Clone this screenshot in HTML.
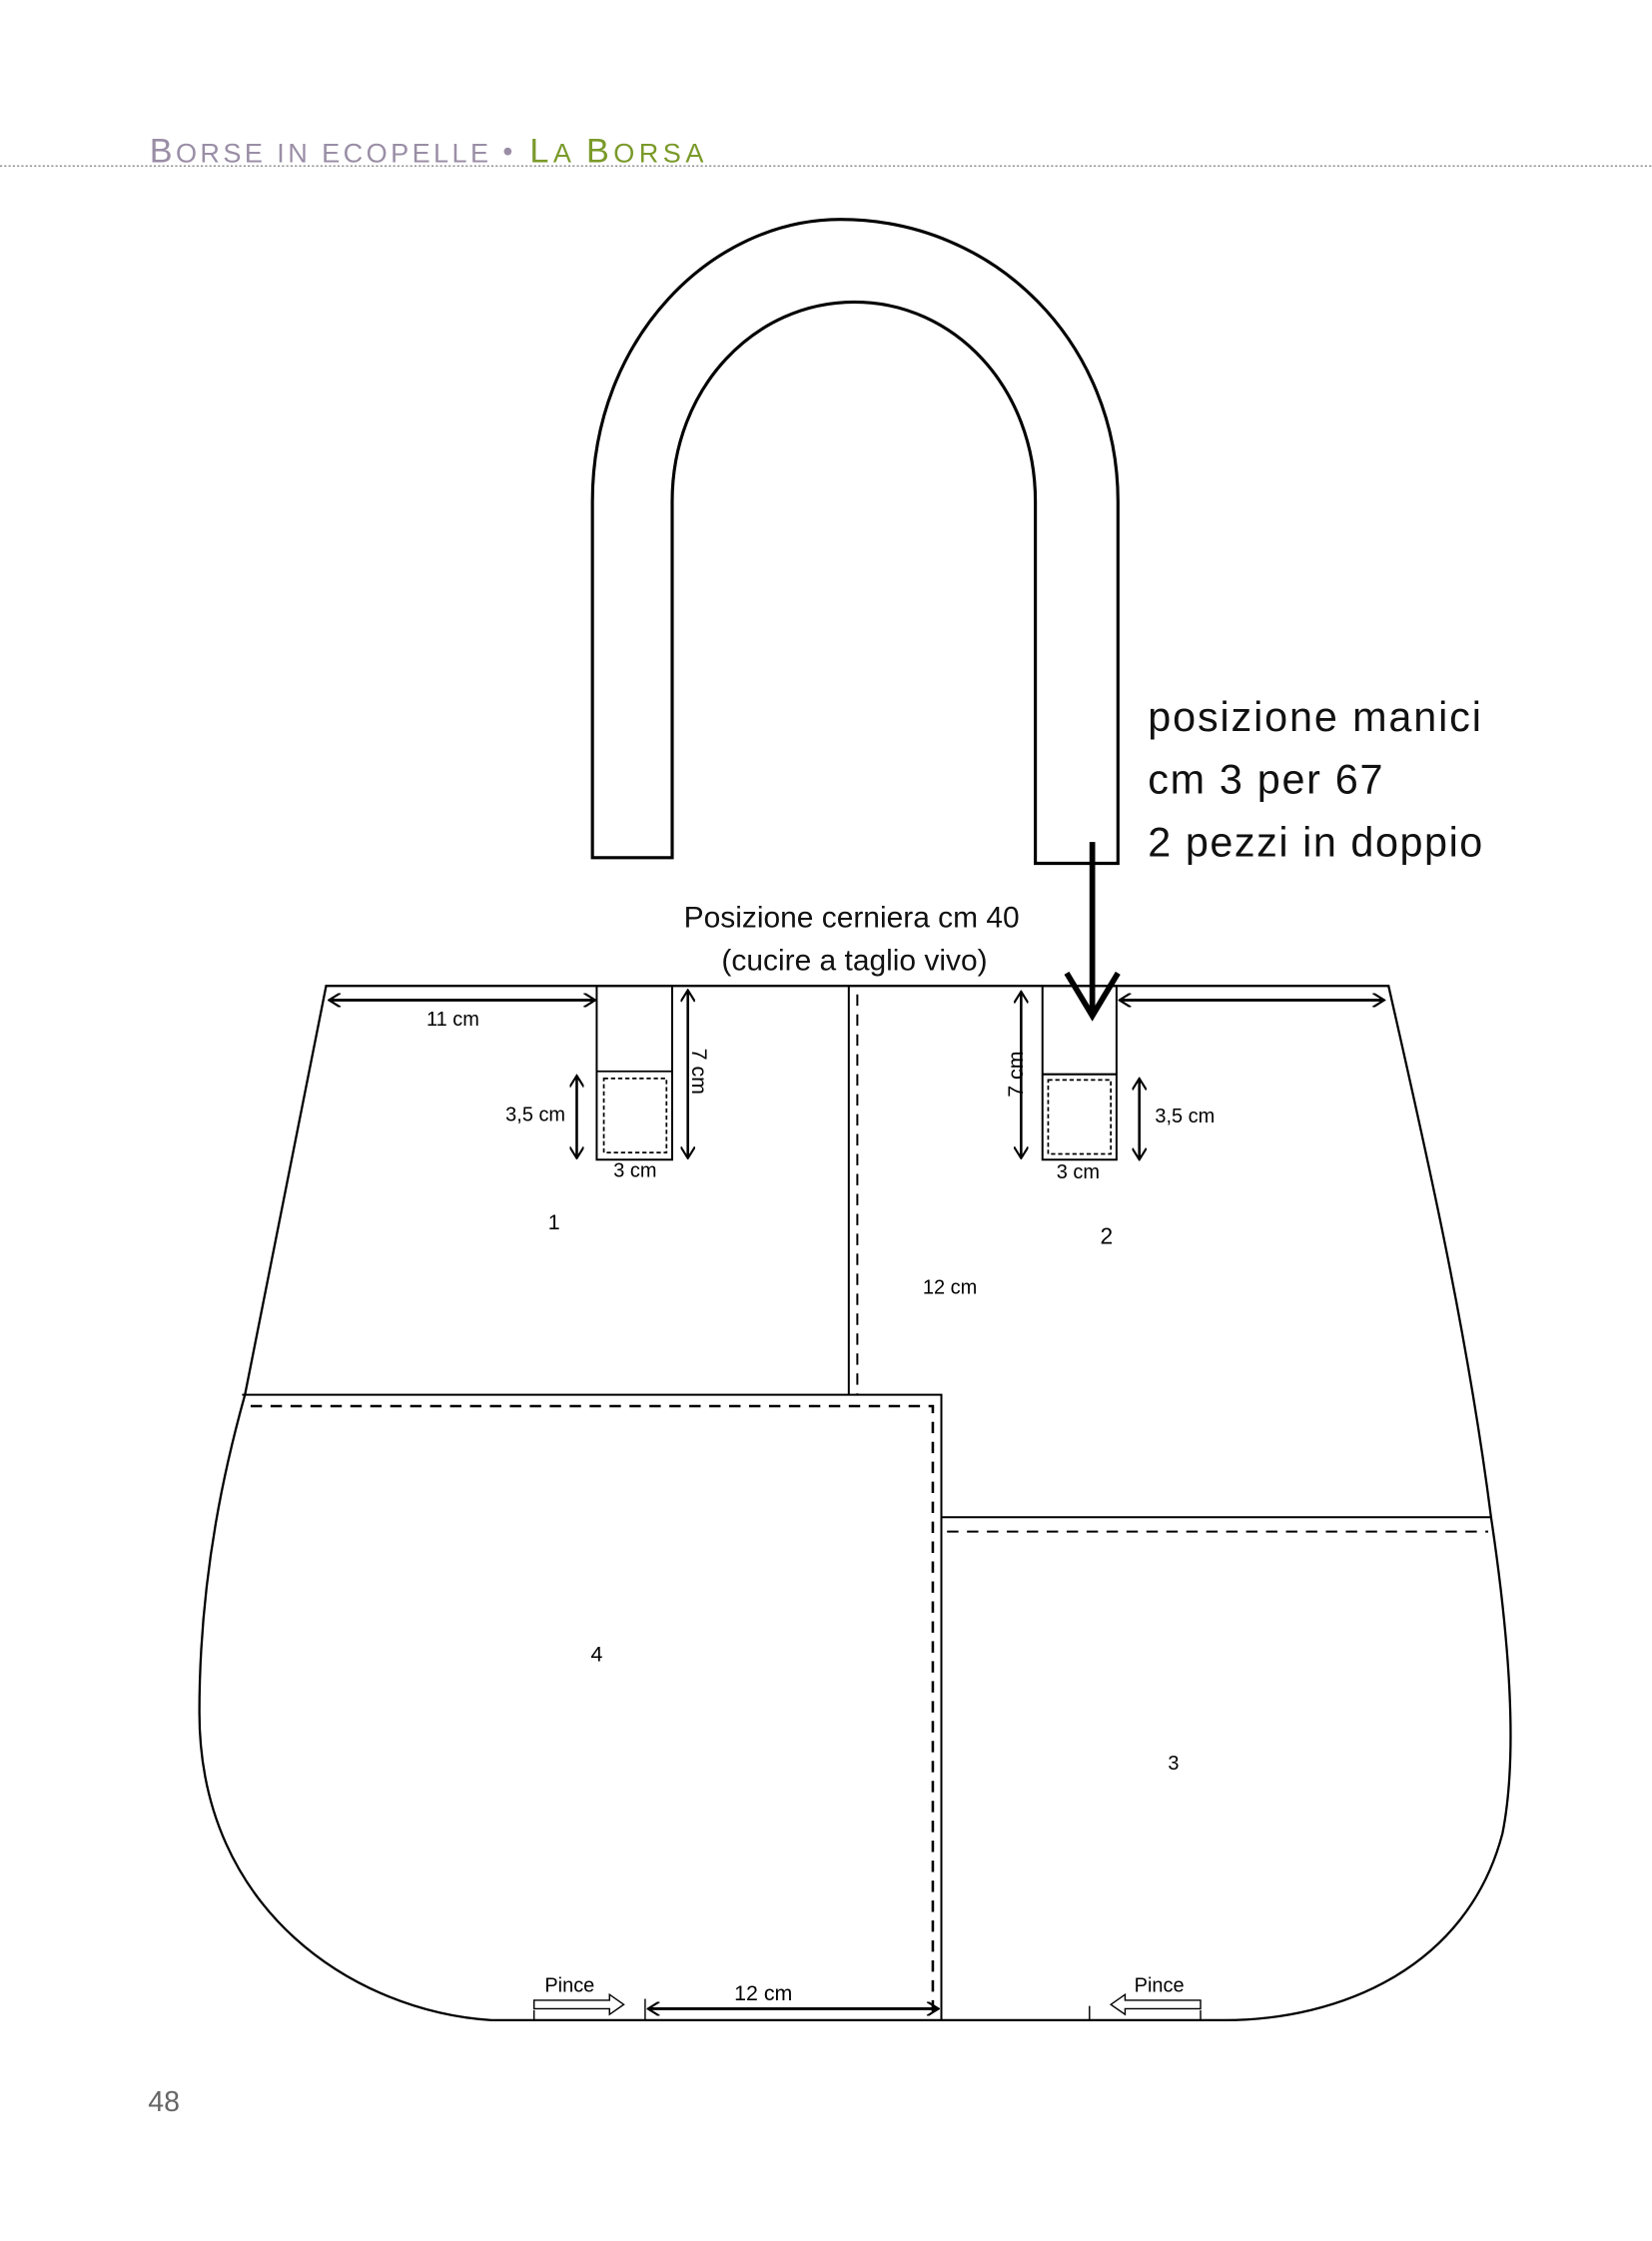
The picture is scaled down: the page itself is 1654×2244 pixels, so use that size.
<!DOCTYPE html>
<html><head><meta charset="utf-8"><style>
html,body{margin:0;padding:0;background:#fff}
svg{display:block}
text{font-family:"Liberation Sans",sans-serif}
</style></head><body>
<svg width="1654" height="2244" viewBox="0 0 1160 1573" preserveAspectRatio="none" xmlns="http://www.w3.org/2000/svg">
<defs>
<marker id="ah" markerWidth="10" markerHeight="10" refX="9" refY="5" orient="auto-start-reverse" markerUnits="userSpaceOnUse">
<path d="M1,0 L9,5 L1,10" fill="none" stroke="#000" stroke-width="1.5"/>
</marker>
</defs>
<!-- header -->
<text x="105" y="114" font-size="24" fill="#9a8ea6" textLength="238" lengthAdjust="spacing">B<tspan font-size="19">ORSE IN ECOPELLE</tspan></text>
<text x="353" y="113" font-size="20" fill="#9a8ea6">•</text>
<text x="372" y="114" font-size="24" fill="#7a9a2a" textLength="122" lengthAdjust="spacing">L<tspan font-size="19">A </tspan>B<tspan font-size="19">ORSA</tspan></text>
<line x1="0" y1="116.5" x2="1160" y2="116.5" stroke="#888" stroke-width="1" stroke-dasharray="1.5,1.5"/>

<!-- handle -->
<path d="M416,602 L416,352 C416,237 500,154 590,154 C700,154 785,242 785,352 L785,606 L727,606 L727,352 C727,272 670,212 600,212 C530,212 472,272 472,352 L472,602 Z" fill="none" stroke="#000" stroke-width="2.2"/>

<text x="806" y="513" font-size="29" fill="#111" textLength="234">posizione manici</text>
<text x="806" y="557" font-size="29" fill="#111" textLength="165">cm 3 per 67</text>
<text x="806" y="601" font-size="29" fill="#111" textLength="235">2 pezzi in doppio</text>
<line x1="767" y1="591" x2="767" y2="712" stroke="#000" stroke-width="4"/>
<path d="M749,683 L767,713 L785,683" fill="none" stroke="#000" stroke-width="4"/>

<text x="598" y="651" font-size="21" text-anchor="middle" fill="#111">Posizione cerniera cm 40</text>
<text x="600" y="681" font-size="21" text-anchor="middle" fill="#111">(cucire a taglio vivo)</text>

<g transform="translate(0,2)">
<!-- bag outline -->
<path d="M229,690 L975,690 C1000,800 1030,930 1047,1063 C1060,1150 1066,1230 1055,1285 C1030,1380 940,1416 860,1416 L345,1416 C250,1410 140,1340 140,1200 C140,1100 160,1020 172,977 Z" fill="none" stroke="#000" stroke-width="1.6"/>

<line x1="596" y1="690" x2="596" y2="977" stroke="#000" stroke-width="1.4"/>
<line x1="602" y1="696" x2="602" y2="977" stroke="#000" stroke-width="1.4" stroke-dasharray="8,6"/>
<polyline points="170,977 661,977 661,1416" fill="none" stroke="#000" stroke-width="1.4"/>
<polyline points="176,985 655,985 655,1410" fill="none" stroke="#000" stroke-width="1.8" stroke-dasharray="8,6"/>
<line x1="661" y1="1063" x2="1047" y2="1063" stroke="#000" stroke-width="1.4"/>
<line x1="665" y1="1073" x2="1045" y2="1073" stroke="#000" stroke-width="1.4" stroke-dasharray="8,6"/>

<!-- tabs -->
<rect x="419" y="690" width="53" height="122" fill="none" stroke="#000" stroke-width="1.4"/>
<line x1="419" y1="750" x2="472" y2="750" stroke="#000" stroke-width="1.2"/>
<rect x="424" y="755" width="44" height="52" fill="none" stroke="#000" stroke-width="1.2" stroke-dasharray="3,2"/>
<rect x="732" y="690" width="52" height="122" fill="none" stroke="#000" stroke-width="1.4"/>
<line x1="732" y1="752" x2="784" y2="752" stroke="#000" stroke-width="1.5"/>
<rect x="736" y="756" width="44" height="52" fill="none" stroke="#000" stroke-width="1.2" stroke-dasharray="3,2"/>

<!-- dimensions -->
<line x1="231" y1="700" x2="418" y2="700" stroke="#000" stroke-width="2" marker-start="url(#ah)" marker-end="url(#ah)"/>
<line x1="786" y1="700" x2="972" y2="700" stroke="#000" stroke-width="2" marker-start="url(#ah)" marker-end="url(#ah)"/>
<text x="318" y="718" font-size="14" text-anchor="middle">11 cm</text>
<line x1="483" y1="693" x2="483" y2="811" stroke="#000" stroke-width="1.8" marker-start="url(#ah)" marker-end="url(#ah)"/>
<text transform="translate(486,750) rotate(90)" font-size="15" text-anchor="middle">7 cm</text>
<line x1="405" y1="753" x2="405" y2="811" stroke="#000" stroke-width="1.8" marker-start="url(#ah)" marker-end="url(#ah)"/>
<text x="376" y="785" font-size="14" text-anchor="middle">3,5 cm</text>
<text x="446" y="824" font-size="14" text-anchor="middle">3 cm</text>
<line x1="717" y1="694" x2="717" y2="811" stroke="#000" stroke-width="1.8" marker-start="url(#ah)" marker-end="url(#ah)"/>
<text transform="translate(718,752) rotate(-90)" font-size="15" text-anchor="middle">7 cm</text>
<line x1="800" y1="755" x2="800" y2="812" stroke="#000" stroke-width="1.8" marker-start="url(#ah)" marker-end="url(#ah)"/>
<text x="832" y="786" font-size="14" text-anchor="middle">3,5 cm</text>
<text x="757" y="825" font-size="14" text-anchor="middle">3 cm</text>

<text x="389" y="861" font-size="15" text-anchor="middle">1</text>
<text x="777" y="871" font-size="16" text-anchor="middle">2</text>
<text x="667" y="906" font-size="14" text-anchor="middle">12 cm</text>
<text x="419" y="1164" font-size="15" text-anchor="middle">4</text>
<text x="824" y="1240" font-size="14" text-anchor="middle">3</text>

<!-- bottom -->
<text x="400" y="1396" font-size="14" text-anchor="middle">Pince</text>
<path d="M375,1402 L428,1402 L428,1398 L438,1405 L428,1412 L428,1408 L375,1408 Z" fill="#fff" stroke="#000" stroke-width="1"/>
<line x1="375" y1="1409" x2="375" y2="1416" stroke="#000" stroke-width="1"/>
<line x1="453" y1="1401" x2="453" y2="1416" stroke="#000" stroke-width="1"/>
<line x1="455" y1="1408" x2="659" y2="1408" stroke="#000" stroke-width="2" marker-start="url(#ah)" marker-end="url(#ah)"/>
<text x="536" y="1402" font-size="15" text-anchor="middle">12 cm</text>
<text x="814" y="1396" font-size="14" text-anchor="middle">Pince</text>
<path d="M843,1402 L790,1402 L790,1398 L780,1405 L790,1412 L790,1408 L843,1408 Z" fill="#fff" stroke="#000" stroke-width="1"/>
<line x1="843" y1="1409" x2="843" y2="1416" stroke="#000" stroke-width="1"/>
<line x1="765" y1="1406" x2="765" y2="1416" stroke="#000" stroke-width="1"/>
</g>

<text x="104" y="1482" font-size="20" fill="#666">48</text>
</svg>
</body></html>
